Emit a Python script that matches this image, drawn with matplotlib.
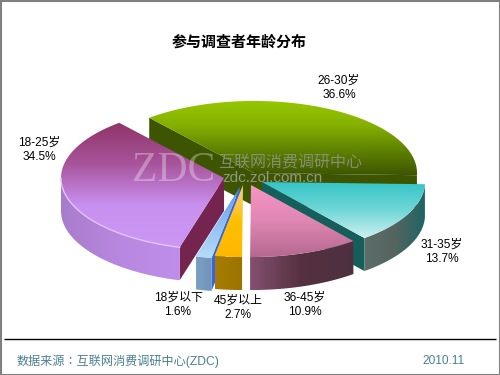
import numpy as np
import matplotlib
matplotlib.use("Agg")
import matplotlib.pyplot as plt
from matplotlib.patches import Polygon, Rectangle
from matplotlib.colors import LinearSegmentedColormap

plt.rcParams['font.family'] = ['Liberation Sans', 'Noto Sans CJK SC']

# data
ages = ["26-30岁", "31-35岁", "36-45岁", "45岁以上", "18岁以下", "18-25岁"]
shares = [36.6, 13.7, 10.9, 2.7, 1.6, 34.5]

# layout, pixels
start_clock = -40
R = 163
K = 0.442
DEPTH = 33
tips = [(254, 173), (262, 182), (251, 185), (243, 185), (240, 187), (224, 178)]
label_xy = [(339, 88), (442, 252), (305, 305), (238, 308), (178, 305), (39, 150)]
draw_order = [0, 1, 2, 5, 4, 3]

# top face (top to bottom), side (left to right), cut face
top_cols = [["#96c800", "#86b000", "#5f8200", "#3d5500"],
            ["#33c4c6", "#6fd6d6", "#ccf0f0"],
            ["#f795c6", "#e087b4", "#b5688f"],
            ["#f5cf9a", "#ffc000", "#ffb800"],
            ["#5f92f0", "#8fbdf8", "#b4dcf8"],
            ["#8f3468", "#a8549c", "#c890f0", "#cc98f4"]]
side_cols = [["#3d5500", "#3d5500"],
             ["#5c6e6a", "#56645f", "#1f6466"],
             ["#855070", "#553040", "#4d3040"],
             ["#a87c00", "#9a7400"],
             ["#7da0c4", "#6f94b8"],
             ["#a87ccc", "#b888e0", "#bf8eea"]]
cut_cols = ["#3d5500", "#145e5c", "#6e2a55", "#9a7400", "#3565e0", "#74244f"]


def rim(cx, cy, a, b):
    t = np.radians(np.linspace(a, b, 80))
    return cx + R * np.sin(t), cy - R * K * np.cos(t)


def grad_fill(ax, verts, cols, vertical, z):
    verts = np.array(verts)
    x0, x1 = verts[:, 0].min(), verts[:, 0].max()
    y0, y1 = verts[:, 1].min(), verts[:, 1].max()
    cm = LinearSegmentedColormap.from_list("g", cols)
    g = np.linspace(0, 1, 256)
    g = g.reshape(-1, 1) if vertical else g.reshape(1, -1)
    im = ax.imshow(g, cmap=cm, extent=(x0, x1, y1, y0), aspect="auto", zorder=z,
                   interpolation="bilinear")
    im.set_clip_path(Polygon(verts, closed=True, transform=ax.transData))


fig = plt.figure(figsize=(5, 3.75), dpi=100)
ax = fig.add_axes([0, 0, 1, 1])

edges = start_clock + np.cumsum([0] + shares) * 3.6
z = 2
for i in draw_order:
    a, b = edges[i], edges[i + 1]
    cx, cy = tips[i]

    # cut faces
    for ang, off in ((a, -90), (b, 90)):
        if np.cos(np.radians(ang + off)) < -0.01:
            x, y = rim(cx, cy, ang, ang)
            face = [(cx, cy), (x[0], y[0]), (x[0], y[0] + DEPTH), (cx, cy + DEPTH)]
            ax.add_patch(Polygon(face, closed=True, fc=cut_cols[i], ec="none", zorder=z))

    # outer wall, front half only
    lo, hi = max(a, 90), min(b, 270)
    if hi > lo:
        x, y = rim(cx, cy, lo, hi)
        wall = list(zip(x, y)) + list(zip(x[::-1], y[::-1] + DEPTH))
        grad_fill(ax, wall, side_cols[i], False, z)

    # top face
    x, y = rim(cx, cy, a, b)
    grad_fill(ax, [(cx, cy)] + list(zip(x, y)), top_cols[i], True, z + 0.5)
    if i == 5 and hi > lo:
        x, y = rim(cx, cy, lo, hi)
        ax.plot(x, y, color="#e2c4fa", lw=1, zorder=z + 0.6)
    z += 1

# watermark
ax.text(174, 171, "ZDC", family="Liberation Serif", fontsize=30, color="white", alpha=0.32,
        ha="center", va="center", zorder=30)
ax.text(290.5, 163, "互联网消费调研中心", fontsize=11.5, color="#9a9a9a", alpha=0.75,
        ha="center", va="center", zorder=30)
ax.text(272.5, 178, "zdc.zol.com.cn", fontsize=11, color="#a8a8a8", alpha=0.8,
        ha="center", va="center", zorder=30)

# labels
for name, val, (lx, ly) in zip(ages, shares, label_xy):
    ax.text(lx, ly, f"{name}\n{val}%", fontsize=8.6, color="black", ha="center", va="center",
            linespacing=1.25, zorder=31)

ax.text(239, 42, "参与调查者年龄分布", fontsize=10.8, fontweight="bold", color="black",
        ha="center", va="center", zorder=31)

# footer
ax.plot([4, 496], [338.5, 338.5], color="black", lw=1, zorder=31, solid_capstyle="butt")
ax.text(17, 361, "数据来源：互联网消费调研中心(ZDC)", fontsize=8.7, color="#4a7f92",
        family=['Liberation Sans', 'Noto Sans CJK TC'], ha="left", va="center", zorder=31)
ax.text(465, 361, "2010.11", fontsize=8.6, color="#4a7f92", ha="right", va="center", zorder=31)

ax.add_patch(Rectangle((0.5, 0.5), 499, 374, fc="none", ec="#808080", lw=1.5, zorder=32))

ax.set_xlim(0, 500)
ax.set_ylim(375, 0)
ax.axis("off")
fig.savefig("out.png", dpi=100, facecolor="white")
